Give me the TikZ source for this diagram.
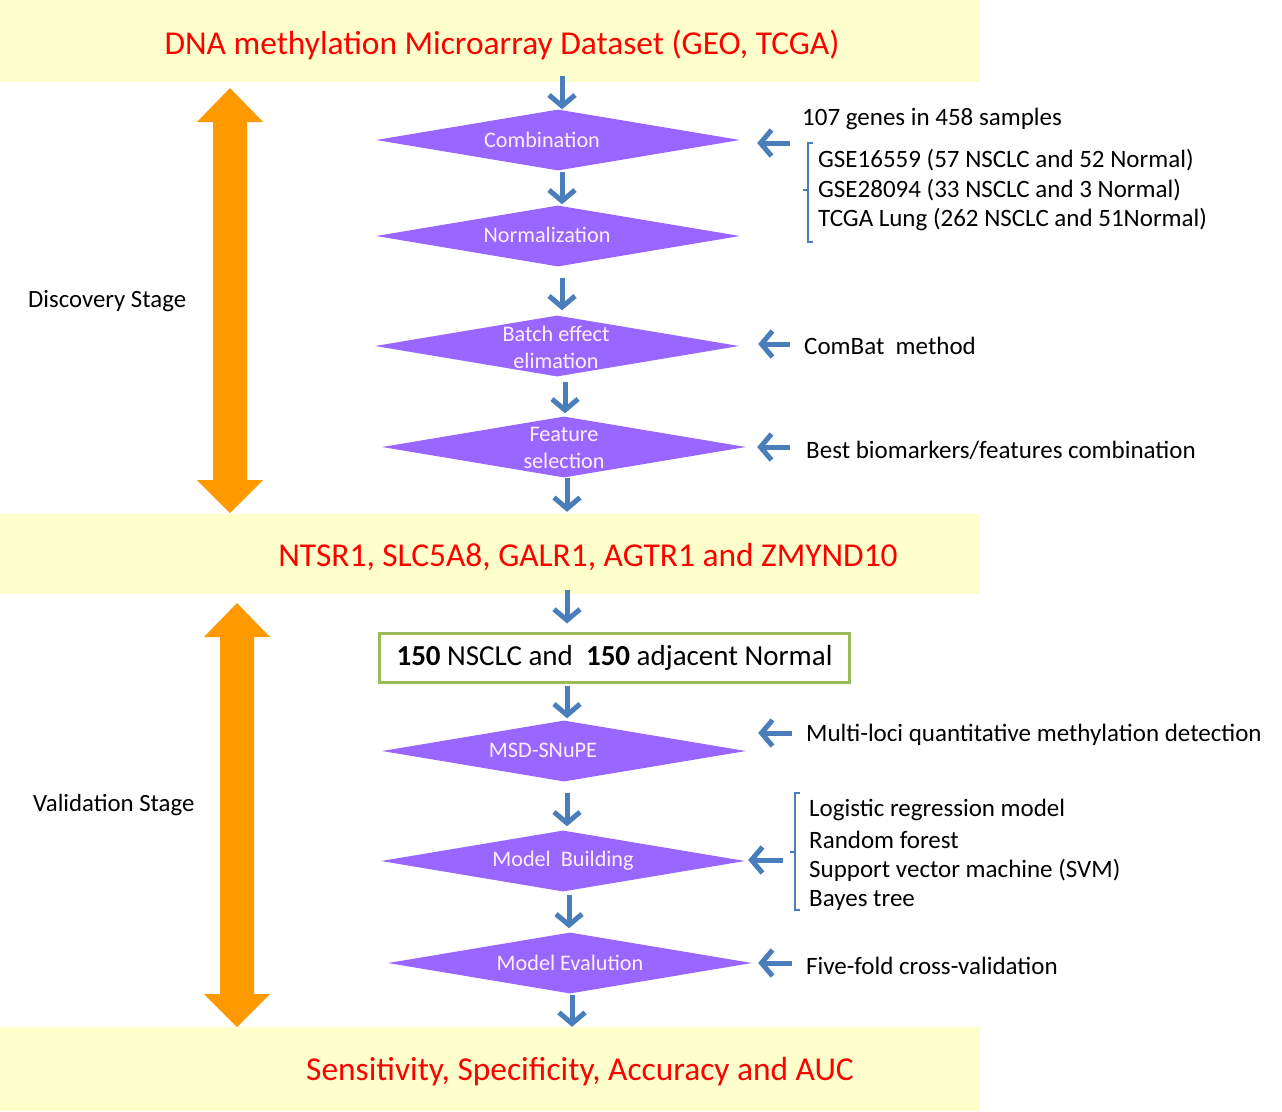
\documentclass[tikz,border=0pt]{standalone}
\usepackage{fontspec}
\setmainfont{Carlito}
\usetikzlibrary{shapes.geometric,arrows.meta}
\definecolor{bandy}{HTML}{FFFFCC}
\definecolor{dpurple}{HTML}{9966FF}
\definecolor{dtext}{HTML}{FFEEFF}
\definecolor{ablue}{HTML}{4A7EBB}
\definecolor{orng}{HTML}{FF9900}
\definecolor{gbox}{HTML}{9BBB59}
\definecolor{tred}{HTML}{FF0000}
\begin{document}
\begin{tikzpicture}[x=1pt,y=-1pt,
  band/.style={fill=bandy, draw=none, inner sep=0, minimum width=980},
  title/.style={text=tred, inner sep=0, yshift=-2pt, font=\fontsize{33.4}{40}\selectfont},
  dia/.style={diamond, fill=dpurple, draw=none, inner sep=0, minimum width=364, minimum height=61},
  dtxt/.style={text=dtext, inner sep=0, align=center, font=\fontsize{22.2}{27}\selectfont},
  side/.style={anchor=west, inner sep=0, yshift=-2pt, font=\fontsize{25}{30}\selectfont},
  stage/.style={anchor=west, inner sep=0, yshift=-2pt, font=\fontsize{24.8}{30}\selectfont},
  barrow/.style={line width=5pt, draw=ablue, -{Straight Barb[length=11pt,width=26pt]}},
  brk/.style={draw=ablue, line width=1.2pt},
]
\useasboundingbox (0,0) rectangle (1282,1111);
% bands
\node[band, minimum height=82] (b1) at (490,41) {};
\node[band, minimum height=80] (b2) at (490,554) {};
\node[band, minimum height=84] (b3) at (490,1069) {};
\node[title] (t1) at (502,43) {DNA methylation Microarray Dataset (GEO, TCGA)};
\node[title] (t2) at (588,555) {NTSR1, SLC5A8, GALR1, AGTR1 and ZMYND10};
\node[title] (t3) at (580,1070) {Sensitivity, Specificity, Accuracy and AUC};
% orange double arrows
\fill[orng] (230,88) -- (263,122) -- (247,122) -- (247,480) -- (263,480) -- (230,513) -- (197,480) -- (213,480) -- (213,122) -- (197,122) -- cycle;
\fill[orng] (237,603) -- (270,637) -- (254,637) -- (254,994) -- (270,994) -- (237,1027) -- (204,994) -- (220,994) -- (220,637) -- (204,637) -- cycle;
\node[stage] (disc) at (28,299) {Discovery Stage};
\node[stage] (vali) at (33,803) {Validation Stage};
% diamonds
\node[dia] (comb) at (558,140) {};
\node[dia] (norm) at (558,236) {};
\node[dia] (batch) at (557,346) {};
\node[dia] (feat) at (564,447) {};
\node[dia] (msd) at (564,751) {};
\node[dia] (mb) at (563,861) {};
\node[dia] (me) at (570,963) {};
\node[dtxt] (combt) at (542,140) {Combination};
\node[dtxt] (normt) at (547,235) {Normalization};
\node[dtxt] (batcht) at (556,347) {Batch effect\\elimation};
\node[dtxt] (featt) at (564,448) {Feature\\selection};
\node[dtxt] (msdt) at (543,750) {MSD-SNuPE};
\node[dtxt] (mbt) at (563,861) {Model\ \ Building};
\node[dtxt] (met) at (570,963) {Model Evalution};
% green box
\node[draw=gbox, line width=3pt, fill=white, minimum width=470, minimum height=49, inner sep=0,
  font=\fontsize{29}{34}\selectfont] (box) at (614.5,657.5) {\raisebox{-2pt}{\textbf{150} NSCLC and\ \ \textbf{150} adjacent Normal}};
% down arrows
\draw[barrow] (b1.south -| 562,0) ++(0,-6) -- (comb.north -| 562,0);
\draw[barrow, shorten <=1pt, shorten >=1pt] (comb.south -| 562,0) -- (norm.north -| 562,0);
\draw[barrow, shorten <=11pt, shorten >=5pt] (norm.south -| 562,0) -- (batch.north -| 562,0);
\draw[barrow, shorten <=5pt, shorten >=3pt] (batch.south -| 565,0) -- (feat.north -| 565,0);
\draw[barrow, shorten >=2pt] (feat.south -| 567,0) -- (b2.north -| 567,0);
\draw[barrow, shorten <=-4pt, shorten >=8pt] (b2.south -| 567,0) -- (box.north -| 567,0);
\draw[barrow, shorten <=2pt, shorten >=2pt] (box.south -| 567,0) -- (msd.north -| 567,0);
\draw[barrow, shorten <=11pt, shorten >=4pt] (msd.south -| 567,0) -- (mb.north -| 567,0);
\draw[barrow, shorten <=3pt, shorten >=4pt] (mb.south -| 569,0) -- (me.north -| 569,0);
\draw[barrow, shorten <=1pt] (me.south -| 572,0) -- (b3.north -| 572,0);
% side texts
\node[side] (s107) at (802,117) {107 genes in 458 samples};
\node[side] (g1) at (818,158) {GSE16559 (57 NSCLC and 52 Normal)};
\node[side] (g2) at (818,188) {GSE28094 (33 NSCLC and 3 Normal)};
\node[side] (g3) at (818,218) {TCGA Lung (262 NSCLC and 51Normal)};
\node[side] (combat) at (804,344) {ComBat\ \ method};
\node[side] (best) at (806,448) {Best biomarkers/features combination};
\node[side] (multi) at (806,733) {Multi-loci quantitative methylation detection};
\node[side] (l1) at (809,808) {Logistic regression model};
\node[side] (l2) at (809,838) {Random forest};
\node[side] (l3) at (809,868) {Support vector machine (SVM)};
\node[side] (l4) at (809,898) {Bayes tree};
\node[side] (five) at (806,964) {Five-fold cross-validation};
% brackets
\draw[brk] (813,143) -- (808,143) -- (808,242) -- (813,242);
\draw[brk] (808,190) -- (803,190);
\draw[brk] (800,793) -- (795,793) -- (795,910) -- (800,910);
\draw[brk] (795,852) -- (790,852);
% left arrows
\coordinate (a1) at (790,143);
\coordinate (a2) at (790,344);
\coordinate (a3) at (790,447);
\coordinate (a4) at (792,733);
\coordinate (a5) at (783,860);
\coordinate (a6) at (792,963);
\draw[barrow, shorten >=17pt] (a1) -- (comb.east |- a1);
\draw[barrow, shorten >=19pt] (a2) -- (batch.east |- a2);
\draw[barrow, shorten >=11pt] (a3) -- (feat.east |- a3);
\draw[barrow, shorten >=12pt] (a4) -- (msd.east |- a4);
\draw[barrow, shorten >=3pt] (a5) -- (mb.east |- a5);
\draw[barrow, shorten >=6pt] (a6) -- (me.east |- a6);
\end{tikzpicture}
\end{document}
